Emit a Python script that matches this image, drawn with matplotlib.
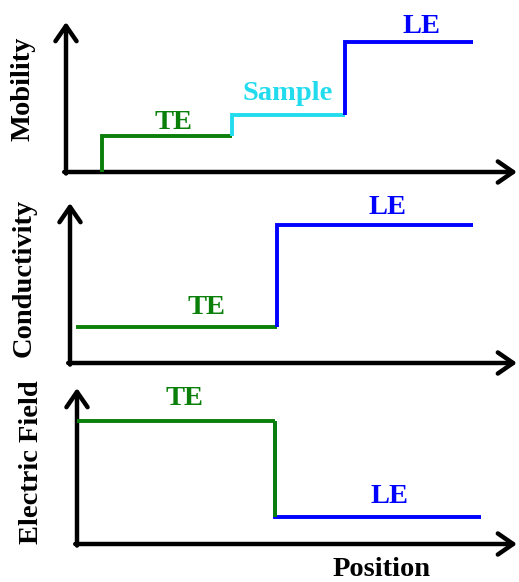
import matplotlib
matplotlib.use("Agg")
import matplotlib.pyplot as plt

plt.rcParams["font.family"] = ["Liberation Serif", "DejaVu Serif"]
plt.rcParams["font.weight"] = "bold"

GREEN = "#0a800a"
CYAN = "#22dcee"
BLUE = "#0000ff"

# Mobility profile: step boundaries along the position axis and zone levels
mob_zones = ["TE", "Sample", "LE"]
mob_edges = [0.8, 3.67, 6.18, 9.02]
mob_levels = [2.4, 3.8, 8.7]
mob_colors = [GREEN, CYAN, BLUE]

# Conductivity profile
cond_zones = ["TE", "LE"]
cond_edges = [0.13, 4.63, 9.02]
cond_levels = [2.25, 8.6]

# Electric field profile
field_zones = ["TE", "LE"]
field_edges = [0.0, 4.5, 9.18]
field_levels = [7.9, 1.73]

W, H = 519, 582
LW = 2.8
fig = plt.figure(figsize=(W / 100, H / 100), dpi=100)


def px_axes(left, right, bottom, top):
    return fig.add_axes([left / W, 1 - bottom / H, (right - left) / W, (bottom - top) / H])


def arrows(ax):
    kw = dict(arrowstyle="->,head_length=0.55,head_width=0.38", lw=3.2,
              color="black", mutation_scale=20, shrinkA=0, shrinkB=0)
    ax.annotate("", xy=(1, 0), xytext=(-0.004, 0), xycoords="axes fraction",
                arrowprops=kw, annotation_clip=False)
    ax.annotate("", xy=(0, 1), xytext=(0, -0.01), xycoords="axes fraction",
                arrowprops=kw, annotation_clip=False)


def setup(ax):
    ax.set_xlim(0, 10)
    ax.set_ylim(0, 10)
    ax.axis("off")
    arrows(ax)


def draw_steps(ax, edges, levels, colors, start_level, lw=LW):
    prev = start_level
    for i, (lev, col) in enumerate(zip(levels, colors)):
        x0, x1 = edges[i], edges[i + 1]
        if prev is None:
            xs, ys = [x0, x1], [lev, lev]
        else:
            xs, ys = [x0, x0, x1], [prev, lev, lev]
        ax.plot(xs, ys, color=col, lw=lw, solid_joinstyle="miter",
                solid_capstyle="butt", clip_on=False, zorder=3)
        prev = lev


def label(ax, x, y, s, col):
    ax.text(x, y, s, color=col, fontsize=20.5, fontweight="bold",
            ha="center", va="center", zorder=4)


# Panel 1: mobility
ax1 = px_axes(66, 517, 172, 22)
setup(ax1)
draw_steps(ax1, mob_edges, mob_levels, mob_colors, 0.0)
label(ax1, (mob_edges[0] + mob_edges[1]) / 2 + 0.14, mob_levels[0] + 0.93, mob_zones[0], GREEN)
label(ax1, (mob_edges[1] + mob_edges[2]) / 2 + 0.0, mob_levels[1] + 1.4, mob_zones[1], CYAN)
label(ax1, (mob_edges[2] + mob_edges[3]) / 2 + 0.29, mob_levels[2] + 1.03, mob_zones[2], BLUE)

# Panel 2: conductivity
ax2 = px_axes(70, 517, 363, 203)
setup(ax2)
draw_steps(ax2, cond_edges, cond_levels, [GREEN, BLUE], None)
label(ax2, 3.05, cond_levels[0] + 1.2, cond_zones[0], GREEN)
label(ax2, 7.1, cond_levels[1] + 1.1, cond_zones[1], BLUE)

# Panel 3: electric field
ax3 = px_axes(77, 517, 544, 388)
setup(ax3)
draw_steps(ax3, field_edges, [field_levels[0], field_levels[1]], [GREEN, BLUE], None)
ax3.plot([field_edges[1], field_edges[1]], [field_levels[0], field_levels[1]],
         color=GREEN, lw=LW, solid_capstyle="butt", zorder=3)
label(ax3, 2.45, field_levels[0] + 1.45, field_zones[0], GREEN)
label(ax3, 7.1, field_levels[1] + 1.3, field_zones[1], BLUE)

# Axis titles
fs = 20.5
fig.text(23 / W, 1 - 89 / H, "Mobility", rotation=90, ha="center", va="center",
         fontsize=fs, fontweight="bold")
fig.text(24 / W, 1 - 278 / H, "Conductivity", rotation=90, ha="center", va="center",
         fontsize=fs, fontweight="bold")
fig.text(32 / W, 1 - 462 / H, "Electric Field", rotation=90, ha="center", va="center",
         fontsize=fs, fontweight="bold")
fig.text(382 / W, 1 - 570 / H, "Position", ha="center", va="center",
         fontsize=fs, fontweight="bold")

fig.savefig("out.png", dpi=100)
